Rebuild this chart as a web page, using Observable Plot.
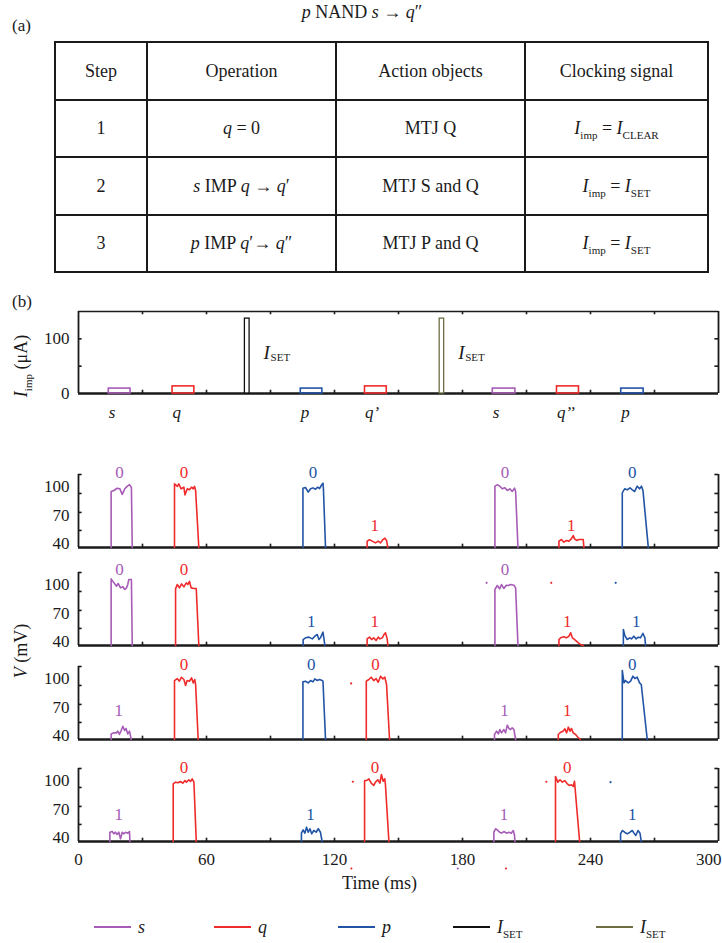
<!DOCTYPE html>
<html><head><meta charset="utf-8">
<script src="https://cdn.jsdelivr.net/npm/d3@7"></script>
<script src="https://cdn.jsdelivr.net/npm/@observablehq/plot@0.6"></script>
<style>
body{margin:0;background:#fff;}
#root{position:relative;width:722px;height:943px;font-family:"Liberation Serif","Times New Roman",serif;color:#1a1a1a;overflow:hidden;background:#fff;}
.abs{position:absolute;white-space:nowrap;line-height:1;}
#tbl{position:absolute;left:54px;top:41px;width:653px;height:232px;border-collapse:collapse;font-size:18px;table-layout:fixed;}
#tbl td,#tbl th{border:2px solid #1a1a1a;text-align:center;vertical-align:middle;font-weight:normal;padding:0;}
sub{font-size:11px;vertical-align:baseline;position:relative;top:5px;}
.rot{position:absolute;white-space:nowrap;transform:translate(-50%,-50%) rotate(-90deg);font-size:18px;line-height:1;}
svg.pl{position:absolute;left:0;}
.lg{position:absolute;height:0;border-top:2.2px solid;width:37px;}
</style></head>
<body><div id="root"></div>
<script>
// ---------------- data ----------------
// Table (a)
const tableHeader = ["Step", "Operation", "Action objects", "Clocking signal"];
const steps = ["1", "2", "3"];
const operations = ["<i>q</i> = 0", "<i>s</i> IMP <i>q</i> → <i>q</i>′", "<i>p</i> IMP <i>q</i>′→ <i>q</i>″"];
const actionObjects = ["MTJ Q", "MTJ S and Q", "MTJ P and Q"];
const clockSub = ["CLEAR", "SET", "SET"];

// Axis ticks
const timeTicks = [0, 60, 120, 180, 240];
const timeLastTick = [300];
const timeMinor = [30, 60, 90, 120, 150, 180, 210, 240, 270];
const iLabels = [0, 100];
const iMinor = [50, 100];
const vLabels = [40, 70, 100];
const vMinor = [54, 73, 93, 113];

// I_imp read pulses (ms, µA)
const readPulses = [
  {k: "s", label: "s", t0: 14.2, t1: 24.4, h: 9},
  {k: "q", label: "q", t0: 44.1, t1: 54.3, h: 13},
  {k: "p", label: "p", t0: 104.2, t1: 114.3, h: 9},
  {k: "q", label: "q’", t0: 134.3, t1: 144.5, h: 13},
  {k: "s", label: "s", t0: 194.2, t1: 204.8, h: 9},
  {k: "q", label: "q’’", t0: 224.3, t1: 234.6, h: 13},
  {k: "p", label: "p", t0: 254.4, t1: 264.9, h: 9}
];
// I_SET write pulses
const setPulses = [
  {k: "set1", t0: 78.0, t1: 80.2, h: 137},
  {k: "set2", t0: 169.3, t1: 171.4, h: 137}
];

// V panels: traces [ms, mV]
const V1 = [
  {k: "s", pts: [[15.3,36],[15.3,95.1],[16.6,96.1],[18.1,98.5],[19.4,97.9],[20.5,92.0],[21.7,97.9],[22.8,100.5],[23.9,102.3],[24.4,100.5],[24.8,99.5],[25.2,36]]},
  {k: "q", pts: [[45.0,36],[45.0,103.2],[46.3,100.5],[47.0,103.2],[48.1,97.9],[49.4,99.6],[49.9,91.5],[51.0,97.9],[52.0,96.9],[53.0,99.6],[53.8,97.9],[54.4,100.5],[54.9,96.1],[56.4,36]]},
  {k: "p", pts: [[105.2,36],[105.2,98.5],[106.4,99.3],[107.7,94.4],[108.8,97.9],[109.9,98.9],[111.1,97.5],[112.2,99.6],[113.0,98.2],[113.8,101.4],[114.6,103.9],[114.8,97.9],[115.8,36]]},
  {k: "q", pts: [[135.3,36],[135.3,42.7],[136.4,44.1],[137.7,42.7],[139.2,40.9],[140.5,42.7],[141.6,40.9],[142.7,44.4],[143.6,45.8],[144.4,43.4],[145.0,36]]},
  {k: "s", pts: [[195.2,36],[195.2,100.7],[196.3,102.1],[197.5,100.7],[198.6,97.9],[199.9,99.0],[201.0,96.1],[202.2,97.9],[203.3,95.1],[204.4,98.6],[204.9,95.1],[206.0,36]]},
  {k: "q", pts: [[225.2,36],[225.2,42.7],[226.4,44.4],[227.5,41.6],[228.7,43.4],[229.9,42.7],[231.0,45.1],[231.9,48.6],[232.5,45.1],[233.5,43.4],[234.6,44.4],[236.6,44.4],[236.9,36]]},
  {k: "p", pts: [[254.9,36],[254.9,93.7],[256.0,97.9],[257.2,96.8],[258.5,99.0],[259.6,96.8],[260.7,95.1],[261.9,100.7],[263.0,97.9],[263.9,100.7],[264.6,96.1],[267.1,36]]}
];
const V1_states = [
  {k:"s",t:19.2,v:115.4,txt:"0"},{k:"q",t:49.4,v:115.4,txt:"0"},{k:"p",t:109.9,v:115.4,txt:"0"},
  {k:"q",t:138.9,v:59.2,txt:"1"},{k:"s",t:199.9,v:115.4,txt:"0"},{k:"q",t:231.0,v:59.2,txt:"1"},{k:"p",t:259.6,v:115.4,txt:"0"}
];
const V1_specks = [];

const V2 = [
  {k: "s", pts: [[15.3,36],[15.3,106.3],[16.6,102.1],[17.8,98.6],[18.6,101.4],[19.7,96.8],[20.8,97.9],[21.7,95.1],[22.5,96.8],[23.1,100.3],[23.6,105.6],[24.8,105.6],[25.2,36]]},
  {k: "q", pts: [[45.5,36],[45.5,95.7],[46.3,100.3],[47.3,96.8],[48.3,101.0],[49.4,97.9],[50.5,102.1],[51.3,100.3],[52.0,103.8],[52.8,96.8],[54.1,96.1],[55.2,96.1],[56.4,36]]},
  {k: "p", pts: [[105.3,36],[105.3,42.3],[106.4,44.1],[108.0,44.8],[109.6,43.0],[110.8,45.8],[111.9,47.6],[112.7,42.3],[113.4,44.1],[114.6,50.1],[115.0,44.1],[115.5,36]]},
  {k: "q", pts: [[135.3,36],[135.3,43.0],[136.4,44.8],[137.4,42.3],[138.4,44.1],[139.5,41.3],[140.5,44.8],[141.3,43.0],[142.4,44.1],[143.2,47.6],[143.9,49.4],[144.7,43.0],[145.0,36]]},
  {k: "s", pts: [[195.2,36],[195.2,95.1],[196.3,99.3],[197.4,95.8],[198.3,100.3],[199.4,96.1],[200.5,99.6],[201.5,99.3],[202.5,100.3],[204.1,99.6],[204.9,96.8],[206.0,36]]},
  {k: "q", pts: [[225.2,36],[225.2,42.3],[226.0,44.1],[227.5,45.2],[228.6,44.1],[229.9,45.8],[230.7,49.4],[231.5,44.1],[232.2,43.0],[233.4,40.6],[234.3,38.8],[235.3,37.1],[236.6,36]]},
  {k: "p", pts: [[255.4,36],[255.4,52.9],[256.1,46.5],[257.2,42.3],[258.4,44.1],[259.2,43.0],[260.3,45.8],[261.4,43.0],[262.4,44.8],[263.4,44.1],[264.6,48.7],[265.5,44.1],[265.8,36]]}
];
const V2_states = [
  {k:"s",t:19.2,v:116.2,txt:"0"},{k:"q",t:49.4,v:116.2,txt:"0"},{k:"p",t:109.1,v:61.6,txt:"1"},
  {k:"q",t:138.9,v:61.6,txt:"1"},{k:"s",t:199.9,v:116.2,txt:"0"},{k:"q",t:229.1,v:61.6,txt:"1"},{k:"p",t:261.4,v:61.6,txt:"1"}
];
const V2_specks = [{k:"s",t:191.3,v:102.1},{k:"q",t:221.6,v:102.1},{k:"p",t:251.8,v:102.1}];

const V3 = [
  {k: "s", pts: [[15.3,36],[15.3,41.9],[16.6,43.0],[17.7,43.0],[18.4,44.8],[19.2,41.3],[20.0,45.5],[20.8,50.0],[21.6,45.5],[22.3,47.6],[23.1,41.9],[23.9,44.8],[24.4,39.5],[24.7,36]]},
  {k: "q", pts: [[45.0,36],[45.0,98.2],[46.3,100.3],[47.3,97.5],[48.3,101.7],[49.4,99.3],[50.2,93.0],[50.9,98.2],[52.0,97.5],[53.0,101.0],[53.8,95.7],[54.5,99.3],[54.9,94.0],[56.1,36]]},
  {k: "p", pts: [[105.2,36],[105.2,96.8],[106.4,97.5],[107.7,95.7],[108.8,98.2],[109.9,96.8],[110.8,99.9],[111.9,98.2],[113.0,99.3],[113.9,98.6],[114.6,97.5],[115.8,36]]},
  {k: "q", pts: [[134.9,36],[134.9,97.5],[136.1,99.3],[137.2,101.7],[138.4,98.2],[139.5,100.3],[140.5,96.4],[141.6,102.8],[142.7,99.9],[143.6,101.7],[144.4,94.0],[145.8,36]]},
  {k: "s", pts: [[195.0,36],[195.0,41.3],[196.0,44.8],[196.8,41.9],[197.5,46.5],[198.3,43.0],[199.4,46.5],[200.2,43.0],[201.0,51.1],[201.8,47.6],[202.5,46.5],[203.3,48.3],[204.1,46.5],[204.9,36]]},
  {k: "q", pts: [[224.9,36],[224.9,41.3],[226.0,43.7],[227.1,44.8],[228.0,47.2],[228.8,43.0],[229.6,49.0],[230.4,44.8],[231.1,47.6],[231.9,43.0],[233.0,41.3],[234.1,38.4],[235.3,36]]},
  {k: "p", pts: [[254.9,36],[254.9,108.8],[255.7,95.7],[256.4,98.2],[257.7,95.7],[258.8,97.5],[259.9,102.8],[260.8,100.3],[261.9,101.7],[263.0,95.7],[263.8,94.0],[266.6,36]]}
];
const V3_states = [
  {k:"s",t:18.9,v:66.6,txt:"1"},{k:"q",t:49.4,v:115.1,txt:"0"},{k:"p",t:109.1,v:115.1,txt:"0"},
  {k:"q",t:139.2,v:115.1,txt:"0"},{k:"s",t:199.7,v:66.6,txt:"1"},{k:"q",t:229.1,v:66.6,txt:"1"},{k:"p",t:259.6,v:115.1,txt:"0"}
];
const V3_specks = [{k:"q",t:127.8,v:95.1}];

const V4 = [
  {k: "s", pts: [[14.7,36],[14.7,45.8],[15.8,46.5],[16.6,44.1],[17.3,45.8],[18.1,43.4],[18.9,45.8],[19.7,38.8],[20.5,45.8],[21.2,44.1],[22.0,45.8],[23.1,44.8],[23.9,46.5],[24.1,36]]},
  {k: "q", pts: [[44.4,36],[44.4,96.8],[45.5,98.6],[46.7,97.9],[47.8,99.3],[48.9,97.5],[49.9,100.3],[50.6,98.6],[51.7,101.1],[52.5,99.3],[53.3,102.1],[54.1,98.6],[55.2,36]]},
  {k: "p", pts: [[104.5,36],[104.5,44.8],[105.3,48.3],[106.1,44.8],[106.9,51.1],[107.7,45.8],[108.5,49.4],[109.3,44.1],[110.3,47.6],[111.4,45.8],[112.4,49.4],[113.4,45.8],[114.2,36]]},
  {k: "q", pts: [[134.1,36],[134.1,100.3],[135.0,100.3],[136.1,102.1],[137.2,97.5],[138.4,95.1],[139.2,98.6],[140.3,101.1],[141.3,97.5],[142.0,106.7],[142.8,99.6],[143.6,102.1],[143.9,95.1],[145.5,36]]},
  {k: "s", pts: [[194.7,36],[194.7,45.8],[195.5,49.4],[196.3,48.3],[197.4,45.8],[198.3,44.8],[199.4,46.5],[200.6,44.8],[201.8,45.8],[202.8,44.8],[203.8,47.6],[204.4,42.3],[204.6,36]]},
  {k: "q", pts: [[223.6,36],[223.6,104.6],[224.7,98.6],[225.7,101.1],[226.8,98.6],[227.9,100.3],[229.1,96.8],[230.2,95.1],[231.1,95.8],[231.9,94.0],[232.5,99.6],[234.9,36]]},
  {k: "p", pts: [[254.1,36],[254.1,44.1],[254.9,47.6],[256.0,45.8],[257.2,44.1],[258.5,45.8],[259.6,47.6],[260.4,44.8],[261.2,42.3],[262.3,47.6],[263.2,44.8],[263.8,36]]}
];
const V4_states = [
  {k:"s",t:18.9,v:64,txt:"1"},{k:"q",t:49.4,v:114.4,txt:"0"},{k:"p",t:108.8,v:64,txt:"1"},
  {k:"q",t:139.0,v:114.4,txt:"0"},{k:"s",t:199.4,v:64,txt:"1"},{k:"q",t:229.1,v:114.4,txt:"0"},{k:"p",t:259.6,v:64,txt:"1"}
];
const V4_specks = [
  {k:"q",t:128.6,v:99},{k:"q",t:219.3,v:99},{k:"p",t:249.4,v:98.6},
  {k:"q",t:127.9,v:7.5},{k:"s",t:177.8,v:7.5},{k:"q",t:200.4,v:7.5}
];

// ---------------- style ----------------
const colors = {s: "#a65cb6", q: "#ef2b2b", p: "#2254a6", set1: "#111111", set2: "#6e6d44"};
const FONT = "'Liberation Serif', 'Times New Roman', serif";
const T_MAX = 300;

const root = document.getElementById("root");
function addHTML(html, css, cls = "abs") {
  const d = document.createElement("div");
  d.className = cls;
  d.innerHTML = html;
  Object.assign(d.style, css);
  root.appendChild(d);
  return d;
}

// Title and panel letters
addHTML("<i>p</i> NAND <i>s</i> → <i>q</i>″", {left: "362px", top: "3px", fontSize: "18px", transform: "translateX(-50%)"});
addHTML("(a)", {left: "12px", top: "17px", fontSize: "17px"});
addHTML("(b)", {left: "12px", top: "293px", fontSize: "17px"});

// Table
const tbl = document.createElement("table");
tbl.id = "tbl";
const colW = [92, 189, 189, 183];
tbl.innerHTML = "<colgroup>" + colW.map(w => `<col style="width:${w}px">`).join("") + "</colgroup>" +
  `<tr style="height:58px">${tableHeader.map(h => `<th>${h}</th>`).join("")}</tr>` +
  steps.map((s, i) => `<tr style="height:57px"><td>${s}</td><td>${operations[i]}</td><td>${actionObjects[i]}</td>` +
    `<td><i>I</i><sub>imp</sub> = <i>I</i><sub>${clockSub[i]}</sub></td></tr>`).join("");
root.appendChild(tbl);

// Axis titles
addHTML("<i>I</i><sub>imp</sub> (μA)", {left: "21px", top: "366px"}, "rot");
addHTML("<i>V</i> (mV)", {left: "21px", top: "651px"}, "rot");

const baseStyle = {fontFamily: FONT, fontSize: "17px", background: "transparent", overflow: "visible", color: "#1a1a1a"};

function place(svg, top) {
  svg.classList.add("pl");
  svg.style.position = "absolute";
  svg.style.left = "0px";
  svg.style.top = top + "px";
  root.appendChild(svg);
}

// ---------- I_imp panel ----------
{
  const mt = 10, mb = 30, h = 82;
  const svg = Plot.plot({
    width: 722, height: mt + h + mb, marginLeft: 78, marginRight: 4, marginTop: mt, marginBottom: mb,
    x: {domain: [0, T_MAX], axis: null},
    y: {domain: [0, 150]},
    color: {type: "identity"},
    style: baseStyle,
    marks: [
      Plot.ruleY([0], {strokeWidth: 2.4}),
      Plot.ruleY([150], {strokeWidth: 1.6}),
      Plot.ruleX([0, T_MAX], {y1: 0, y2: 150, strokeWidth: 1.8}),
      Plot.ruleY(iMinor, {x1: 0, x2: 1.7, strokeWidth: 1.6}),
      Plot.ruleY(iMinor, {x1: T_MAX - 1.7, x2: T_MAX, strokeWidth: 1.6}),
      Plot.ruleX(timeMinor, {y1: 0, y2: 6, strokeWidth: 1.6}),
      Plot.ruleX(timeMinor, {y1: 144, y2: 150, strokeWidth: 1.6}),
      Plot.rect(readPulses, {x1: "t0", x2: "t1", y1: 0, y2: "h", fill: "none", stroke: d => colors[d.k], strokeWidth: 1.6}),
      Plot.rect(setPulses, {x1: "t0", x2: "t1", y1: 0, y2: "h", fill: "white", stroke: d => colors[d.k], strokeWidth: 1.3}),
      Plot.text(setPulses, {x: "t1", y: 75, text: () => "I", dx: 14, textAnchor: "start", fontStyle: "italic", fontSize: 19}),
      Plot.text(setPulses, {x: "t1", y: 75, text: () => "SET", dx: 21, dy: 5, textAnchor: "start", fontSize: 11}),
      Plot.text(readPulses, {x: "t0", y: 0, text: "label", dy: 19, dx: 0, textAnchor: "start", fontStyle: "italic", fontSize: 17}),
      Plot.axisY({ticks: iLabels, tickSize: 0, tickPadding: 9, fontSize: 17, label: null})
    ]
  });
  place(svg, 311 - mt);
}

// ---------- V panels ----------
function vPanel(traces, states, specks, plotTop, last) {
  const VMIN = 36, VMAX = 113;
  const mt = 22, mb = last ? 60 : 6, h = 73;
  const marks = [
    Plot.ruleY([VMIN], {strokeWidth: 2.4}),
    Plot.ruleX([0, T_MAX], {y1: VMIN, y2: VMAX, strokeWidth: 1.8}),
    Plot.ruleY(vMinor, {x1: 0, x2: 1.7, strokeWidth: 1.6}),
    Plot.ruleY(vMinor, {x1: T_MAX - 1.7, x2: T_MAX, strokeWidth: 1.6}),
    Plot.ruleX(timeMinor, {y1: VMIN, y2: VMIN + 3.5, strokeWidth: 1.6}),
    ...traces.map(tr => Plot.line(tr.pts, {x: d => d[0], y: d => d[1], stroke: colors[tr.k], strokeWidth: 1.6})),
    Plot.text(states, {x: "t", y: "v", text: "txt", fill: d => colors[d.k], fontSize: 17}),
    Plot.dot(specks, {x: "t", y: "v", r: 1.1, fill: d => colors[d.k], stroke: "none"}),
    Plot.axisY({ticks: vLabels, tickSize: 0, tickPadding: 9, fontSize: 17, label: null})
  ];
  if (last) {
    marks.push(Plot.axisX({ticks: timeTicks, tickSize: 0, tickPadding: 11, fontSize: 17, label: null}));
    marks.push(Plot.axisX({ticks: timeLastTick, tickSize: 0, tickPadding: 11, fontSize: 17, label: null, textAnchor: "end", dx: 3}));
    marks.push(Plot.text(["Time (ms)"], {frameAnchor: "bottom", text: d => d, dy: 47, dx: -19, fontSize: 18}));
  }
  const svg = Plot.plot({
    width: 722, height: mt + h + mb, marginLeft: 78, marginRight: 4, marginTop: mt, marginBottom: mb,
    x: last ? {domain: [0, T_MAX]} : {domain: [0, T_MAX], axis: null},
    y: {domain: [VMIN, VMAX]},
    color: {type: "identity"},
    style: baseStyle,
    marks
  });
  place(svg, plotTop - mt);
}
vPanel(V1, V1_states, V1_specks, 474, false);
vPanel(V2, V2_states, V2_specks, 571.5, false);
vPanel(V3, V3_states, V3_specks, 665.5, false);
vPanel(V4, V4_states, V4_specks, 768, true);

// ---------- Legend ----------
const legendItems = [
  {k: "s", html: "<i>s</i>"},
  {k: "q", html: "<i>q</i>"},
  {k: "p", html: "<i>p</i>"},
  {k: "set1", html: "<i>I</i><sub>SET</sub>"},
  {k: "set2", html: "<i>I</i><sub>SET</sub>"}
];
const legendX = [94, 214, 338, 453, 596];
legendItems.forEach((it, i) => {
  addHTML("", {left: legendX[i] + "px", top: "926px", borderTopColor: colors[it.k]}, "lg");
  addHTML(it.html, {left: (legendX[i] + 44) + "px", top: "918px", fontSize: "18px"});
});
</script>
</body></html>
